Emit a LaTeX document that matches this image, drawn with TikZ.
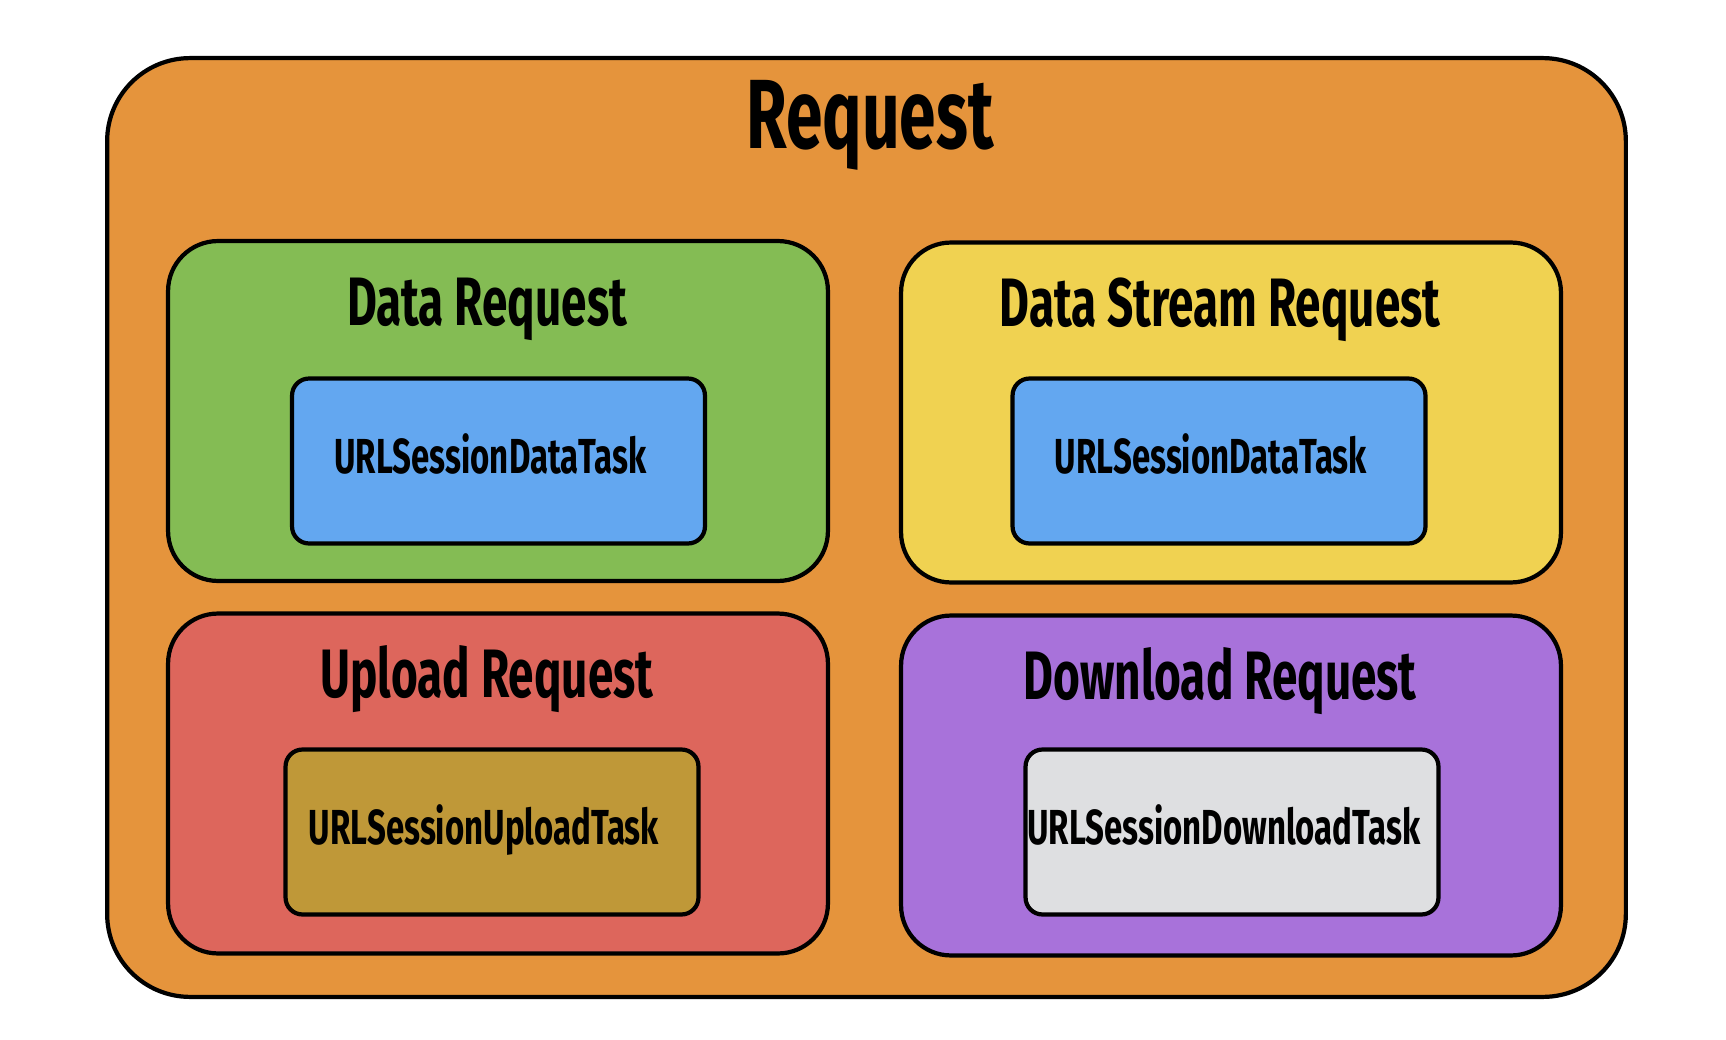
\documentclass[tikz,border=0pt]{standalone}
\usepackage{fontspec}
\newfontfamily\sketchfont[FakeStretch=0.67]{Fira Sans}
\usetikzlibrary{positioning}

\definecolor{reqorange}{HTML}{E5943C}
\definecolor{datagreen}{HTML}{84BC54}
\definecolor{streamyellow}{HTML}{F0D251}
\definecolor{uploadred}{HTML}{DD665C}
\definecolor{downloadpurple}{HTML}{A872DA}
\definecolor{taskblue}{HTML}{63A7F0}
\definecolor{taskgold}{HTML}{BF9838}
\definecolor{taskgrey}{HTML}{DEDFE1}

\tikzset{
  outline/.style={draw=black, line width=2.4pt},
  frame/.style={outline, rounded corners=1.66cm, minimum width=30.38cm, minimum height=18.78cm},
  panel/.style={outline, rounded corners=1cm, minimum width=13.2cm, minimum height=6.8cm},
  taskbox/.style={outline, rounded corners=0.34cm, minimum width=8.26cm, minimum height=3.3cm},
  bigtitle/.style={anchor=base, font=\sketchfont\bfseries\fontsize{56}{56}\selectfont},
  paneltitle/.style={anchor=base, font=\sketchfont\bfseries\fontsize{39}{39}\selectfont},
  tasklabel/.style={anchor=base, font=\sketchfont\bfseries\fontsize{28}{28}\selectfont}
}

\begin{document}
\begin{tikzpicture}[x=0.02cm, y=-0.02cm]
\useasboundingbox (0,0) rectangle (1726,1040);

% Outer frame
\node[frame, fill=reqorange] (request) at (866.5,527.5) {};
\node[bigtitle] (request-title) at (870,149) {Request};

% The four requests, each with its task
\foreach \name/\px/\py/\pcol/\title/\ix/\iy/\icol/\task in {
    data/498/411/datagreen/Data Request/498.5/461/taskblue/URLSessionDataTask,
    stream/1231/412.5/streamyellow/Data Stream Request/1219/461/taskblue/URLSessionDataTask,
    upload/498/783.5/uploadred/Upload Request/492/832/taskgold/URLSessionUploadTask,
    download/1231/785.5/downloadpurple/Download Request/1232/832/taskgrey/URLSessionDownloadTask} {
    \node[panel, fill=\pcol] (\name) at (\px,\py) {};
    \node[paneltitle] (\name-title) at (\px-11,\py-86) {\title};
    \node[taskbox, fill=\icol] (\name-task) at (\ix,\iy) {};
    \node[tasklabel] (\name-label) at (\ix-8,\iy+12) {\task};
}
\end{tikzpicture}
\end{document}
